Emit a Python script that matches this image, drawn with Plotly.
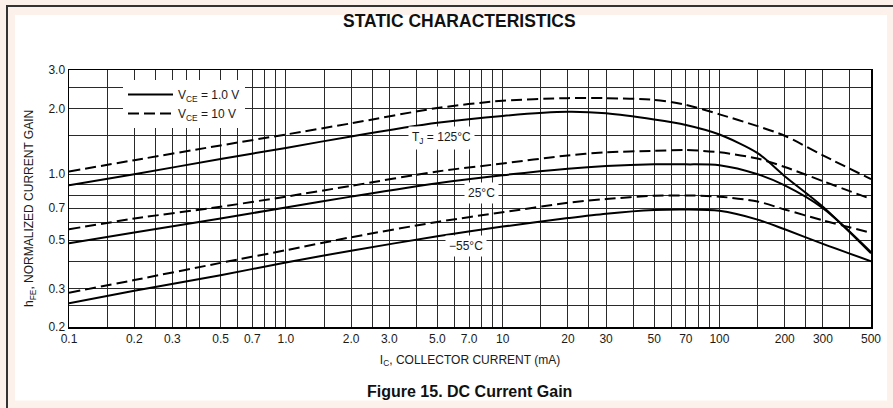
import plotly.graph_objects as go

# ---- data ----
ic_ma = [0.1, 0.2, 0.5, 1, 2, 5, 10, 20, 30, 50, 70, 100, 150, 200, 300, 500]

h125_v1 = [0.89, 1.00, 1.175, 1.32, 1.49, 1.72, 1.85, 1.93, 1.90, 1.78, 1.68, 1.52, 1.25, 0.98, 0.71, 0.435]
h125_v10 = [1.03, 1.16, 1.355, 1.52, 1.71, 2.01, 2.17, 2.23, 2.23, 2.19, 2.08, 1.88, 1.66, 1.50, 1.22, 0.95]
h25_v1 = [0.483, 0.541, 0.627, 0.705, 0.79, 0.91, 0.99, 1.06, 1.09, 1.11, 1.11, 1.10, 1.00, 0.89, 0.70, 0.44]
h25_v10 = [0.56, 0.627, 0.71, 0.79, 0.885, 1.03, 1.12, 1.22, 1.26, 1.28, 1.29, 1.26, 1.18, 1.08, 0.93, 0.77]
hm55_v1 = [0.257, 0.293, 0.345, 0.395, 0.447, 0.52, 0.576, 0.63, 0.66, 0.686, 0.69, 0.68, 0.62, 0.56, 0.48, 0.40]
hm55_v10 = [0.287, 0.328, 0.393, 0.449, 0.515, 0.605, 0.67, 0.74, 0.77, 0.797, 0.80, 0.79, 0.75, 0.69, 0.615, 0.54]

x_major = [0.1, 0.2, 0.3, 0.5, 0.7, 1, 2, 3, 5, 7, 10, 20, 30, 50, 70, 100, 200, 300, 500]
x_major_text = ["0.1", "0.2", "0.3", "0.5", "0.7", "1.0", "2.0", "3.0", "5.0", "7.0",
                "10", "20", "30", "50", "70", "100", "200", "300", "500"]
x_minor = [0.15, 0.25, 0.35, 0.4, 0.6, 0.8, 0.9, 1.5, 2.5, 4, 6, 8, 9,
           15, 25, 40, 60, 80, 90, 150, 250, 400]
y_major = [0.2, 0.3, 0.5, 0.7, 1.0, 2.0, 3.0]
y_major_text = ["0.2", "0.3", "0.5", "0.7", "1.0", "2.0", "3.0"]
y_minor = [0.25, 0.4, 0.6, 0.8, 0.9, 1.5, 2.5]

FONT = "Liberation Sans, Arial, sans-serif"
DASH = "11px,5px"
GRID = "#2a2a2a"
TXT = "#1a1a1a"

fig = go.Figure()

series = [
    (h125_v1, "solid", "V<sub>CE</sub> = 1.0 V", True),
    (h125_v10, DASH, "V<sub>CE</sub> = 10 V", True),
    (h25_v1, "solid", "25 solid", False),
    (h25_v10, DASH, "25 dashed", False),
    (hm55_v1, "solid", "-55 solid", False),
    (hm55_v10, DASH, "-55 dashed", False),
]
for ys, dash, name, show in series:
    fig.add_trace(go.Scatter(
        x=ic_ma, y=ys, mode="lines", name=name, showlegend=show,
        line=dict(color="black", width=2, dash=dash, shape="spline", smoothing=0.8),
        hoverinfo="skip"))

# plot area in pixels: x 69..871, y 70..327
L, R, T, B = 69, 871, 70, 327
W, H = 893, 408


def px(xp):
    return (xp - L) / (R - L)


def py(yp):
    return (B - yp) / (B - T)


shapes = [
    dict(type="rect", xref="paper", yref="paper", x0=px(15), x1=px(887), y0=py(400.5), y1=py(15),
         fillcolor="white", line=dict(width=0), layer="below"),
    dict(type="line", xref="paper", yref="paper", x0=px(6), x1=px(893), y0=py(6), y1=py(6),
         line=dict(color="#333333", width=2)),
    dict(type="line", xref="paper", yref="paper", x0=px(7), x1=px(7), y0=py(6), y1=py(408),
         line=dict(color="#333333", width=2)),
]

annotations = [
    dict(text="<b>STATIC CHARACTERISTICS</b>", xref="paper", yref="paper",
         x=px(459), y=py(21), xanchor="center", yanchor="middle", showarrow=False,
         font=dict(size=17.5, color="#111", family=FONT)),
    dict(text="<b>Figure 15. DC Current Gain</b>", xref="paper", yref="paper",
         x=px(469.5), y=py(391), xanchor="center", yanchor="middle", showarrow=False,
         font=dict(size=16, color="#111", family=FONT)),
    dict(text="h<sub>FE</sub>, NORMALIZED CURRENT GAIN", xref="paper", yref="paper",
         x=px(30), y=py(209), xanchor="center", yanchor="middle", showarrow=False, textangle=-90,
         font=dict(size=12, color=TXT, family=FONT)),
    dict(text="T<sub>J</sub> = 125°C", x=0.716, y=0.1646, xref="x", yref="y", showarrow=False,
         xanchor="center", yanchor="middle",
         bgcolor="white", borderpad=3, font=dict(size=12, color=TXT, family=FONT)),
    dict(text="25°C", x=0.9027, y=-0.0844, xref="x", yref="y", showarrow=False,
         xanchor="center", yanchor="middle",
         bgcolor="white", borderpad=3, font=dict(size=12, color=TXT, family=FONT)),
    dict(text="−55°C", x=0.8289, y=-0.3283, xref="x", yref="y", showarrow=False,
         xanchor="center", yanchor="middle",
         bgcolor="white", borderpad=3, font=dict(size=12, color=TXT, family=FONT)),
]

axis_common = dict(type="log", tickmode="array", showgrid=True, gridcolor=GRID, gridwidth=1,
                   showline=True, mirror=True, linecolor="black", linewidth=1.5, ticks="",
                   zeroline=False, tickfont=dict(size=12, color=TXT, family=FONT))

fig.update_layout(
    width=W, height=H,
    margin=dict(l=L, r=W - R, t=T, b=H - B, pad=0),
    paper_bgcolor="#fdf2eb", plot_bgcolor="white",
    font=dict(family=FONT, size=12, color=TXT),
    shapes=shapes, annotations=annotations,
    legend=dict(x=px(123), y=py(80), xanchor="left", yanchor="top", bgcolor="white",
                borderwidth=0, font=dict(size=12, color=TXT, family=FONT),
                tracegroupgap=0, itemwidth=45),
    xaxis=dict(axis_common, range=[-1, 2.69897], tickvals=x_major, ticktext=x_major_text,
               minor=dict(tickmode="array", tickvals=x_minor, showgrid=True,
                          gridcolor=GRID, gridwidth=1, ticks=""),
               title=dict(text="I<sub>C</sub>, COLLECTOR CURRENT (mA)", standoff=10,
                          font=dict(size=12, color=TXT, family=FONT))),
    yaxis=dict(axis_common, range=[-0.69897, 0.47712], tickvals=y_major, ticktext=y_major_text,
               minor=dict(tickmode="array", tickvals=y_minor, showgrid=True,
                          gridcolor=GRID, gridwidth=1, ticks="")),
)

fig.write_html("out.html", config={"displayModeBar": False, "staticPlot": True},
               post_script="document.body.style.margin='0';")
